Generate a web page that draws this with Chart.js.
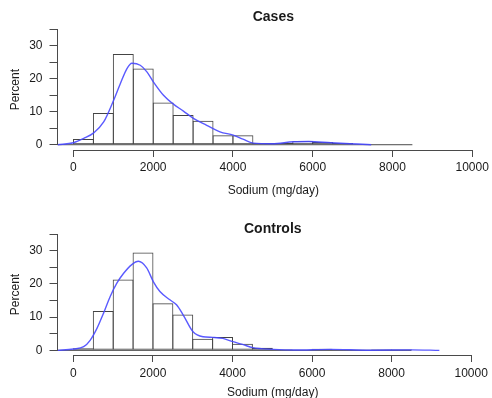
<!DOCTYPE html>
<html>
<head>
<meta charset="utf-8">
<script src="https://cdn.jsdelivr.net/npm/chart.js@4.4.1/dist/chart.umd.min.js"></script>
<style>
  html, body { margin: 0; padding: 0; background: #ffffff; overflow: hidden; }
  #c1 { position: absolute; left: 0; top: 0; }
  #c2 { position: absolute; left: 0; top: 200px; }
</style>
</head>
<body>
<canvas id="c1" width="492" height="200"></canvas>
<canvas id="c2" width="492" height="200"></canvas>
<script>
// ---------- data ----------
const binWidth = 500;
const binStarts = [0, 500, 1000, 1500, 2000, 2500, 3000, 3500, 4000, 4500, 5000, 5500, 6000, 6500, 7000, 7500, 8000];
const casesPct = [1.7, 9.6, 27.5, 23.1, 12.8, 9.0, 7.3, 2.9, 2.9, 0.5, 0.5, 1.1, 0.8, 0.5, 0, 0, 0];
const controlsPct = [0.6, 11.8, 21.3, 29.4, 14.2, 10.8, 3.5, 4.0, 2.0, 0.8, 0.3, 0.2, 0.5, 0.2, 0.1, 0.3, 0.3];

const casesDensX = [-400, 0, 258, 508, 758, 1008, 1175, 1342, 1467, 1675, 1842, 2008, 2258, 2508, 2758, 3008, 3342, 3675, 4008, 4250, 4508, 4983, 5508, 5900, 6458, 7125, 7467];
const casesDensY = [0, 0.6, 1.9, 3.6, 6.9, 13.5, 18.5, 23.1, 24.7, 24.1, 22.1, 19.0, 15.0, 12.3, 10.2, 8.0, 5.9, 3.9, 2.9, 1.7, 0.5, 0.3, 0.9, 1.0, 0.6, 0.2, 0];

const controlsDensX = [-400, 0, 258, 425, 592, 758, 925, 1092, 1258, 1467, 1633, 1842, 2008, 2175, 2425, 2592, 2758, 3008, 3258, 3508, 3758, 4008, 4250, 4508, 5033, 5558, 6458, 7458, 8500, 9200];
const controlsDensY = [0, 0.4, 1.1, 3.1, 6.6, 11.2, 16.2, 20.2, 23.1, 25.8, 26.8, 24.8, 20.7, 17.7, 15.2, 13.7, 10.7, 5.6, 4.1, 3.9, 3.6, 2.6, 1.8, 0.8, 0.3, 0.1, 0.3, 0.05, 0.15, 0];

const baselineRange = [-400, 8500];
const xTickValues = [0, 2000, 4000, 6000, 8000, 10000];
const yTickValues = [0, 5, 10, 15, 20, 25, 30, 35];
const yLabelledTicks = [0, 10, 20, 30];
const xTitle = 'Sodium (mg/day)';
const yTitle = 'Percent';
const panelTitles = ['Cases', 'Controls'];

// ---------- styling ----------
const FONT = '"Liberation Sans", Arial, Helvetica, sans-serif';
const AXIS_COLOR = '#4a4a4a';
const TEXT_COLOR = '#1a1a1a';

const axisLines = {
  id: 'axisLines',
  afterDatasetsDraw(chart) {
    const { ctx, chartArea, scales } = chart;
    const x = scales.x, y = scales.y;
    ctx.save();
    ctx.strokeStyle = AXIS_COLOR;
    ctx.lineWidth = 1;
    ctx.beginPath();
    const lx = Math.floor(chartArea.left) + 0.5;
    ctx.moveTo(lx, y.getPixelForValue(yTickValues[0]));
    ctx.lineTo(lx, y.getPixelForValue(yTickValues[yTickValues.length - 1]));
    const by = Math.round(chartArea.bottom) + 0.5;
    ctx.moveTo(x.getPixelForValue(xTickValues[0]), by);
    ctx.lineTo(x.getPixelForValue(xTickValues[xTickValues.length - 1]), by);
    ctx.stroke();
    ctx.restore();
  }
};

function makeChart(canvasId, title, pct, densX, densY, cfg) {
  const bars = binStarts.map((s, i) => ({ x: s + binWidth / 2, y: pct[i] }));
  const dens = densX.map((v, i) => ({ x: v, y: densY[i] }));
  const base = baselineRange.map(v => ({ x: v, y: 0 }));
  return new Chart(document.getElementById(canvasId), {
    type: 'bar',
    data: {
      datasets: [
        {
          type: 'line', data: dens, borderColor: 'rgba(72,72,255,0.9)', borderWidth: 1.4,
          pointRadius: 0, cubicInterpolationMode: 'monotone', fill: false, order: 0
        },
        {
          type: 'line', data: base, borderColor: AXIS_COLOR, borderWidth: 1,
          pointRadius: 0, fill: false, order: 2
        },
        {
          type: 'bar', data: bars, backgroundColor: 'rgba(255,255,255,0)', borderColor: '#444444',
          borderWidth: 1, borderSkipped: false, barPercentage: 1.05, categoryPercentage: 1, order: 1
        }
      ]
    },
    options: {
      responsive: false,
      animation: false,
      events: [],
      layout: { padding: { left: 4, right: 2, top: 0, bottom: 0 } },
      plugins: {
        legend: { display: false },
        tooltip: { enabled: false },
        title: {
          display: true, text: title, color: TEXT_COLOR, fullSize: false,
          font: { family: FONT, size: 14, weight: 'bold', lineHeight: 1 },
          padding: cfg.titlePad
        }
      },
      scales: {
        x: {
          type: 'linear', min: -400, max: 10425, offset: false,
          afterBuildTicks: s => { s.ticks = xTickValues.map(v => ({ value: v })); },
          afterFit: s => { s.height = cfg.xHeight; },
          border: { display: false },
          grid: { offset: false, drawOnChartArea: false, drawTicks: true, tickLength: 7, color: AXIS_COLOR, lineWidth: 1 },
          ticks: {
            color: TEXT_COLOR, padding: cfg.xTickPad, maxRotation: 0, autoSkip: false,
            font: { family: FONT, size: 12 },
            callback: v => String(v)
          },
          title: { display: true, text: xTitle, color: TEXT_COLOR, font: { family: FONT, size: 12 }, padding: cfg.xTitlePad }
        },
        y: {
          type: 'linear', min: cfg.yMin, max: 35,
          afterBuildTicks: s => { s.ticks = yTickValues.map(v => ({ value: v })); },
          afterFit: s => { s.width = 53.5; },
          border: { display: false },
          grid: { drawOnChartArea: false, drawTicks: true, tickLength: 8, color: AXIS_COLOR, lineWidth: 1 },
          ticks: {
            color: TEXT_COLOR, padding: 7, font: { family: FONT, size: 12 }, autoSkip: false,
            callback: v => (yLabelledTicks.includes(v) ? String(v) : '')
          },
          title: { display: true, text: yTitle, color: TEXT_COLOR, font: { family: FONT, size: 12 }, padding: { top: 4, bottom: 4 } }
        }
      }
    },
    plugins: [axisLines]
  });
}

makeChart('c1', panelTitles[0], casesPct, casesDensX, casesDensY, {
  titlePad: { top: 10, bottom: 5.3 }, xHeight: 50, xTickPad: 3, xTitlePad: { top: 4, bottom: 2 }, yMin: -1.6
});
makeChart('c2', panelTitles[1], controlsPct, controlsDensX, controlsDensY, {
  titlePad: { top: 22, bottom: -2 }, xHeight: 45, xTickPad: 4, xTitlePad: { top: 0, bottom: 0 }, yMin: -1.4
});
</script>
</body>
</html>
